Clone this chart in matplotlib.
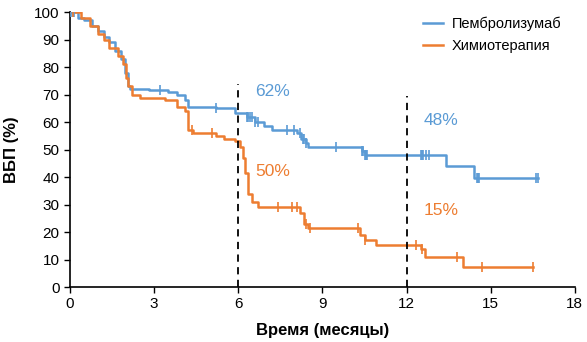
import numpy as np
import matplotlib
matplotlib.use("Agg")
import matplotlib.pyplot as plt

plt.rcParams["font.family"] = ["Liberation Sans", "DejaVu Sans"]

# Kaplan-Meier step data (months, % PFS)
pembro_t = [0, 0.3, 0.5, 0.8, 1.0, 1.2, 1.4, 1.6, 1.8, 1.95, 2.05, 2.15, 2.8, 3.5, 3.8, 4.1, 4.2,
            5.2, 5.9, 6.3, 6.6, 6.9, 7.2, 8.1, 8.25, 8.4, 8.5, 10.4, 10.5, 13.4, 14.4, 16.7]
pembro_s = [100, 98, 97, 95, 93, 91, 89, 86, 83, 78, 73, 72, 71.5, 71, 70, 68, 65.5,
            65, 63.3, 62, 60, 58.5, 57, 56, 54, 52.5, 51, 49.5, 48, 44, 39.5, 39.5]
pembro_cens = [0.05, 0.1, 0.15, 3.2, 5.2, 6.3, 6.35, 6.4, 6.5, 6.6, 6.7, 7.75, 8.0, 8.2, 8.3,
               8.35, 8.4, 9.5, 10.4, 10.45, 10.5, 10.55, 10.6, 12.5, 12.55, 12.6, 12.7, 12.8,
               14.5, 14.55, 14.6, 16.6, 16.7]

chemo_t = [0, 0.4, 0.7, 1.0, 1.2, 1.4, 1.7, 1.9, 2.0, 2.05, 2.2, 2.5, 3.4, 3.8, 4.1, 4.2,
           4.4, 5.2, 5.5, 5.9, 6.05, 6.15, 6.25, 6.35, 6.5, 6.7, 8.2, 8.35, 8.5, 10.35, 10.5,
           10.9, 12.5, 12.65, 14.0, 16.5]
chemo_s = [100, 98, 95, 92, 90, 87, 84, 81, 76, 73, 70, 68.7, 68, 65.5, 64, 57,
           56, 55, 54, 53, 51, 47, 41.5, 34, 31, 29, 27, 23, 21.5, 19, 17,
           15.3, 14, 11, 7.4, 7.4]
chemo_cens = [0.1, 4.35, 5.05, 7.4, 7.9, 8.1, 8.4, 8.55, 10.27, 10.5, 12.35, 12.55,
              13.8, 14.7, 16.5]

# landmark annotations
marks = [6, 12]
pembro_lbl = ["62%", "48%"]
pembro_lbl_y = [71, 60.5]
chemo_lbl = ["50%", "15%"]
chemo_lbl_y = [42, 28]

blue = "#5B9BD5"
orange = "#ED7D31"


def surv_at(t, s, x):
    i = np.searchsorted(t, x, side="right") - 1
    return np.asarray(s)[i]


fig = plt.figure(figsize=(5.87, 3.42), dpi=100)
ax = fig.add_axes([0.1193, 0.1608, 0.860, 0.804])

ax.step(pembro_t, pembro_s, where="post", color=blue, lw=1.8, label="Пембролизумаб", zorder=3)
ax.step(chemo_t, chemo_s, where="post", color=orange, lw=1.8, label="Химиотерапия", zorder=3)
ax.plot(pembro_cens, surv_at(pembro_t, pembro_s, pembro_cens), ls="none", marker="|",
        ms=7, mew=1.2, color=blue, zorder=3)
ax.plot(chemo_cens, surv_at(chemo_t, chemo_s, chemo_cens), ls="none", marker="|",
        ms=7, mew=1.2, color=orange, zorder=3)

ax.plot([6, 6], [0, 74], color="black", ls=(0, (4, 3)), lw=1.3, zorder=4)
ax.plot([12, 12], [0, 69.5], color="black", ls=(0, (4, 3)), lw=1.3, zorder=4)

for m, lb, y in zip(marks, pembro_lbl, pembro_lbl_y):
    ax.text(m + 0.6, y, lb, color=blue, fontsize=12.5, va="center")
for m, lb, y in zip(marks, chemo_lbl, chemo_lbl_y):
    ax.text(m + 0.6, y, lb, color=orange, fontsize=12.5, va="center")

ax.set_xlim(0, 18)
ax.set_ylim(0, 100)
ax.set_xticks(np.arange(0, 19, 3))
ax.set_yticks(np.arange(0, 101, 10))
ax.tick_params(labelsize=11, direction="out", length=4, width=1)
for sp in ["top", "right"]:
    ax.spines[sp].set_visible(False)
ax.spines["left"].set_linewidth(1.2)
ax.spines["bottom"].set_linewidth(1.2)
ax.set_xlabel("Время (месяцы)", fontsize=12, fontweight="bold", labelpad=8)
ax.set_ylabel("ВБП (%)", fontsize=12, fontweight="bold", labelpad=11)

ax.legend(loc="upper right", bbox_to_anchor=(1.0, 1.03), frameon=False, fontsize=10.5,
          handlelength=1.4, handletextpad=0.6, labelspacing=0.5)

fig.savefig("out.png", dpi=100)
